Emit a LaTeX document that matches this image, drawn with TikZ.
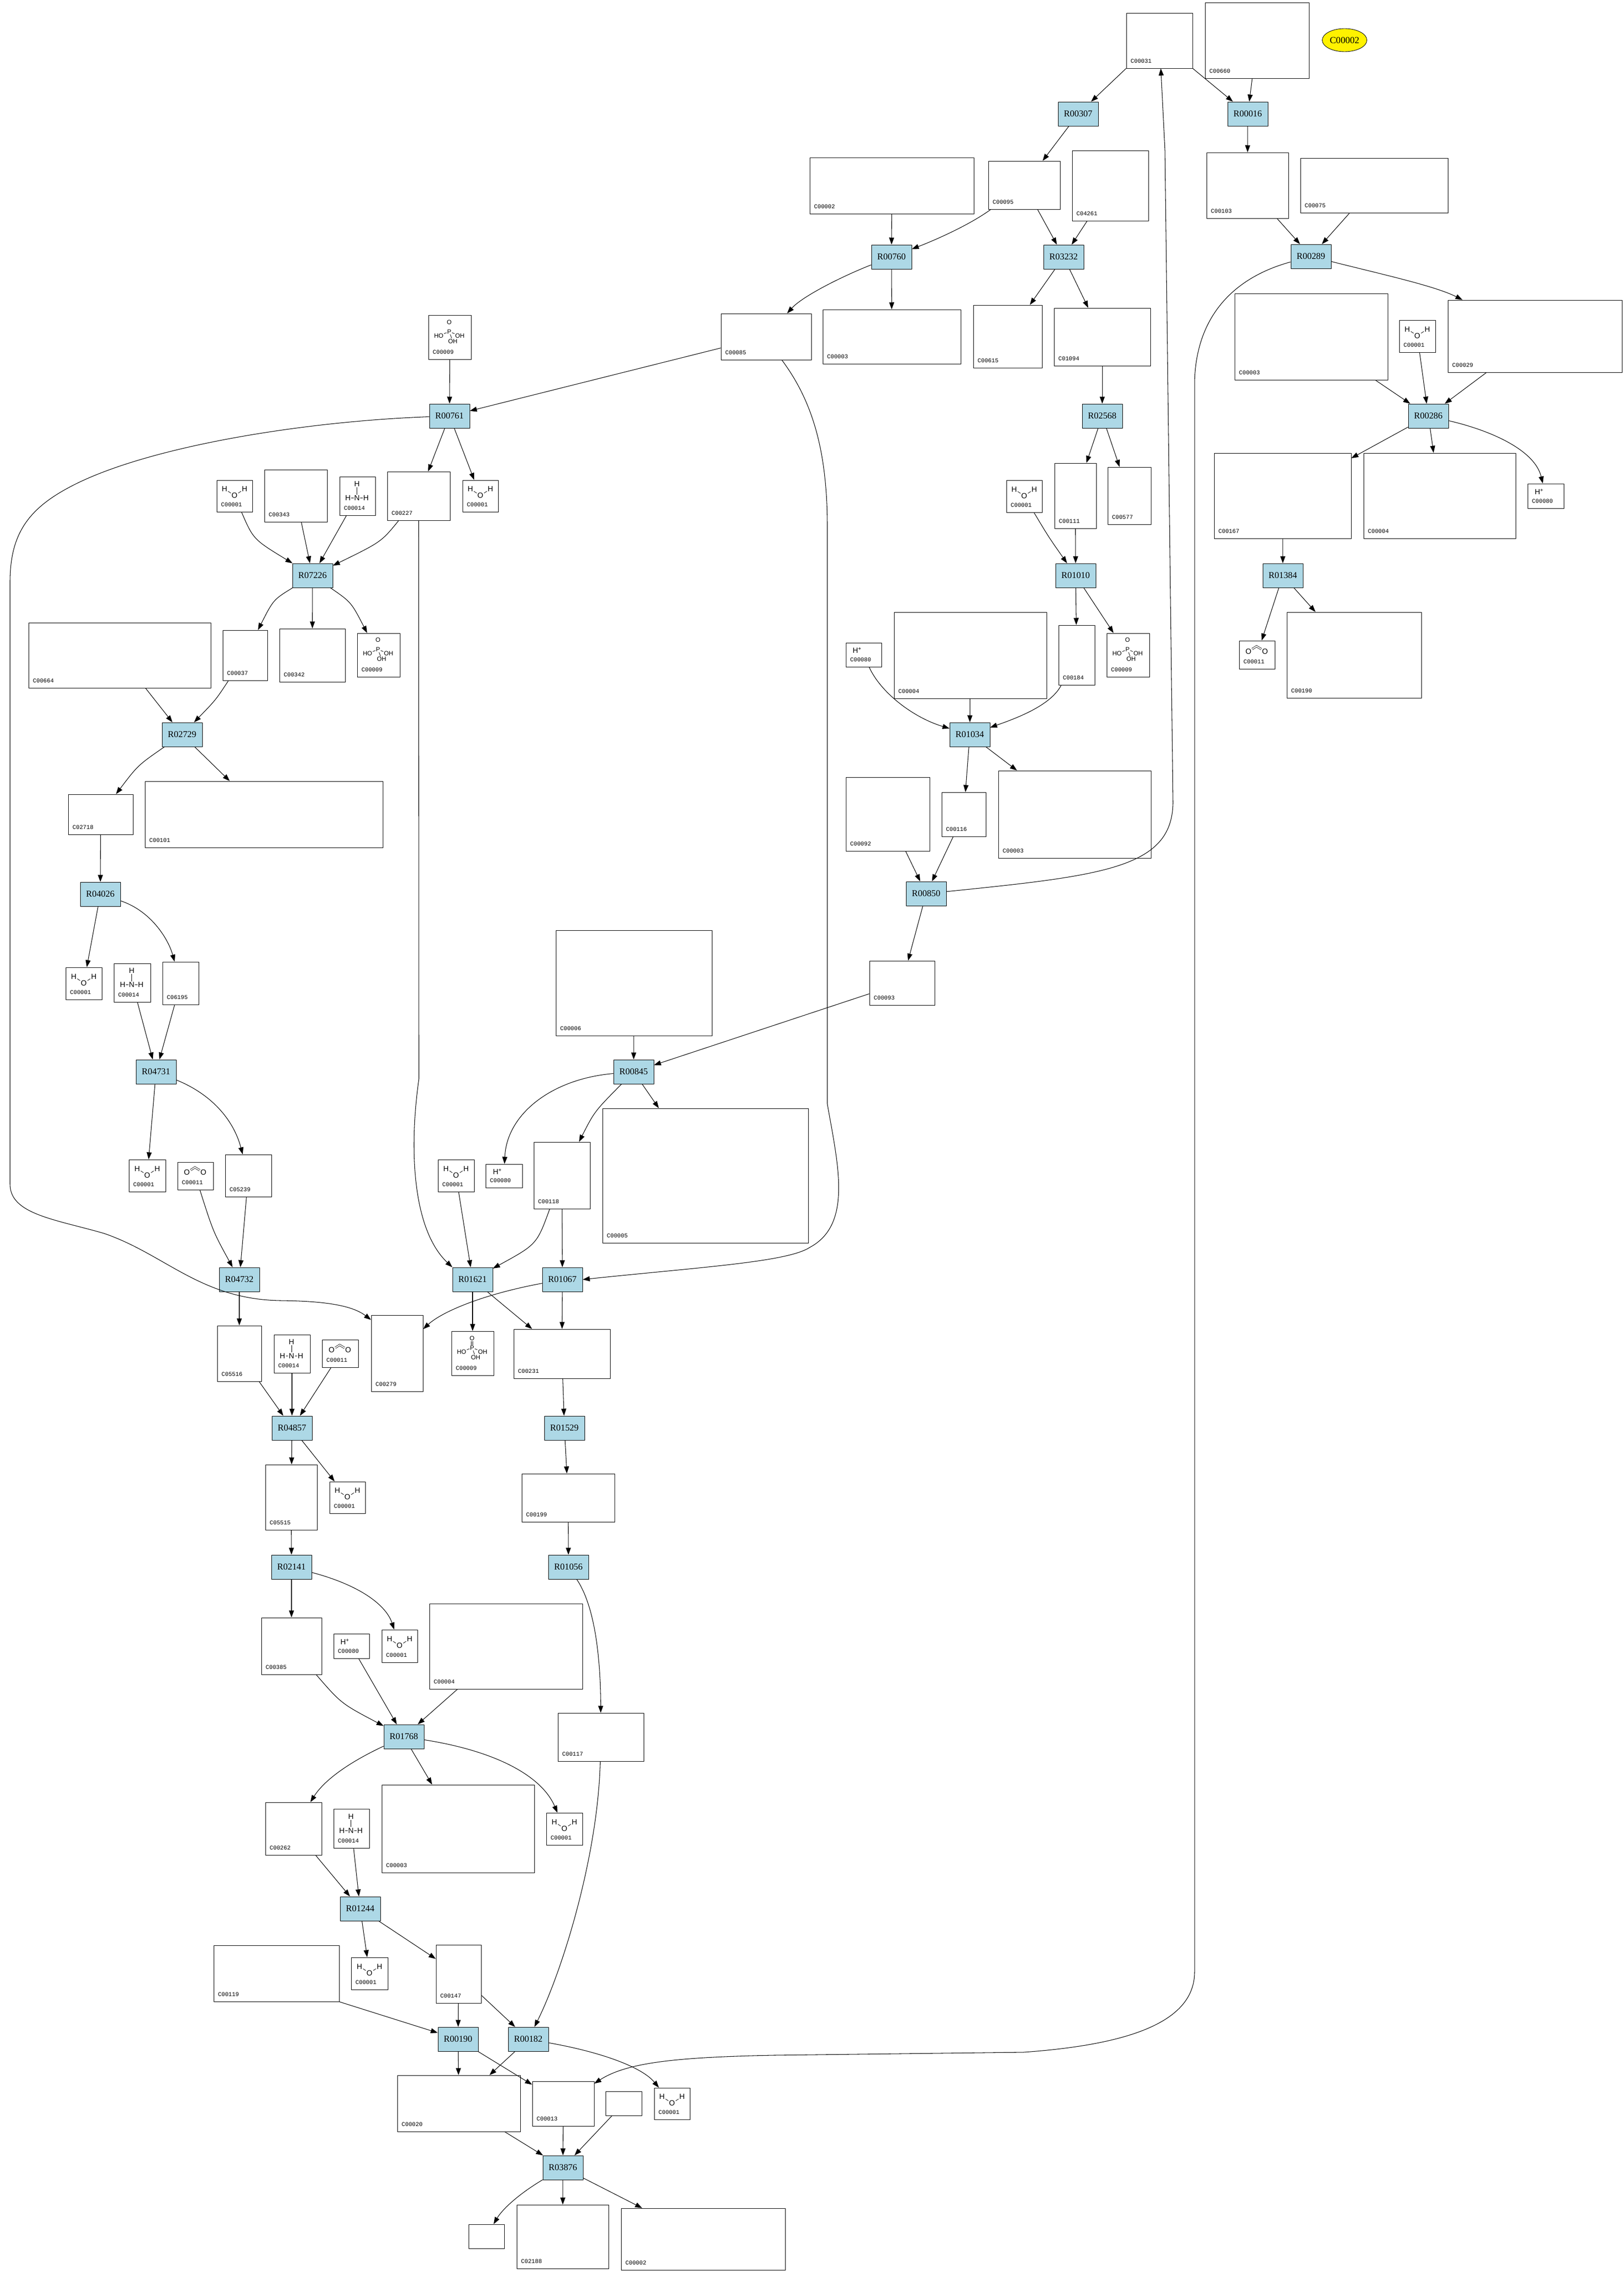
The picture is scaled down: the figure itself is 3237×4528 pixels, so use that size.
\documentclass[tikz,border=0pt]{standalone}
\usepackage{fontspec}
\setmainfont{Liberation Serif}
\newfontfamily\idfont{Liberation Mono}
\newfontfamily\chemfont{Liberation Sans}
\usetikzlibrary{arrows.meta,shapes.geometric,fit}
\definecolor{rxnblue}{HTML}{ADD8E6}
\begin{document}
\begin{tikzpicture}[x=0.02cm,y=-0.02cm,line width=0.6pt,
rxn/.style={draw,fill=rxnblue,line width=0.5pt,minimum width=1.6cm,minimum height=0.96cm,inner sep=0pt,font=\fontsize{10.2}{12}\selectfont},
cpd/.style={draw,inner sep=0pt,line width=0.5pt},
idl/.style={anchor=south west,inner xsep=0.17cm,inner ysep=0.2cm,font=\idfont\fontsize{6.6}{8}\selectfont},
atom/.style={inner sep=0.6pt,font=\chemfont\fontsize{8.5}{9}\selectfont},
satom/.style={inner sep=0.4pt,font=\chemfont\fontsize{7}{8}\selectfont},
bond/.style={line width=0.45pt},
arr/.style={-{Triangle[length=8pt,width=5.7pt]}},
water/.pic={\node[atom] (-ha) at (-20,-14) {H}; \node[atom] (-o) at (0,-1) {O}; \node[atom] (-hb) at (20,-14) {H};
  \draw[bond] (-ha) -- (-o) -- (-hb);},
ammonia/.pic={\node[atom] (-ht) at (-1,-24) {H}; \node[atom] (-n) at (-1,4) {N}; \node[atom] (-hl) at (-19,4) {H}; \node[atom] (-hr) at (17,4) {H};
  \draw[bond] (-ht) -- (-n); \draw[bond] (-hl) -- (-n) -- (-hr);},
carbdiox/.pic={\node[atom] (-oa) at (-17,-7) {O}; \node[atom] (-ob) at (16,-7) {O}; \coordinate (-c) at (-1,-17);
  \draw[bond,double,double distance=1.3pt] (-oa) -- (-c) -- (-ob);},
proton/.pic={\node[atom] (-h) at (-13,-9) {H\textsuperscript{+}};},
phosph/.pic={\node[satom] (-o) at (-1,-30) {O}; \node[satom] (-p) at (-1,-11) {P}; \node[satom] (-hl) at (-22,-3) {HO};
  \node[satom] (-hr) at (20,-3) {OH}; \node[satom] (-hd) at (6,8) {OH};
  \draw[bond,double,double distance=1.2pt] (-o) -- (-p); \draw[bond] (-hl) -- (-p) -- (-hr); \draw[bond] (-p) -- (-hd);}]
\fill[white] (0,0) rectangle (3237,4528);
\useasboundingbox (0,0) rectangle (3237,4528);

\node[rxn] (r00307) at (2149,227) {R00307};
\node[rxn] (r00016) at (2487,227) {R00016};
\node[rxn] (r00760) at (1777,512) {R00760};
\node[rxn] (r03232) at (2120,512) {R03232};
\node[rxn] (r00289) at (2613,511) {R00289};
\node[rxn] (r00761) at (896,829) {R00761};
\node[rxn] (r02568) at (2197,829) {R02568};
\node[rxn] (r00286) at (2847,829) {R00286};
\node[rxn] (r07226) at (623,1147) {R07226};
\node[rxn] (r01010) at (2144,1147) {R01010};
\node[rxn] (r01384) at (2557,1147) {R01384};
\node[rxn] (r02729) at (363,1464) {R02729};
\node[rxn] (r01034) at (1933,1464) {R01034};
\node[rxn] (r04026) at (200,1782) {R04026};
\node[rxn] (r00850) at (1846,1781) {R00850};
\node[rxn] (r04731) at (311,2136) {R04731};
\node[rxn] (r00845) at (1263,2136) {R00845};
\node[rxn] (r04732) at (477,2550) {R04732};
\node[rxn] (r01621) at (942,2550) {R01621};
\node[rxn] (r01067) at (1121,2550) {R01067};
\node[rxn] (r04857) at (582,2846) {R04857};
\node[rxn] (r01529) at (1125,2846) {R01529};
\node[rxn] (r02141) at (581,3123) {R02141};
\node[rxn] (r01056) at (1133,3123) {R01056};
\node[rxn] (r01768) at (805,3461) {R01768};
\node[rxn] (r01244) at (718,3804) {R01244};
\node[rxn] (r00190) at (913,4064) {R00190};
\node[rxn] (r00182) at (1053,4064) {R00182};
\node[rxn] (r03876) at (1122,4320) {R03876};

\node[draw,ellipse,fill=yellow,line width=0.5pt,minimum width=1.78cm,minimum height=0.92cm,inner sep=0pt,font=\fontsize{10.6}{12}\selectfont] (c00002y) at (2680,80) {C00002};

\node[cpd,fit={(2245,26) (2377,136)},label={[idl]south west:C00031}] (c00031) {};
\node[cpd,fit={(2402,5) (2609,156)},label={[idl]south west:C00660}] (c00660) {};
\node[cpd,fit={(1614,314) (1941,426)},label={[idl]south west:C00002}] (c00002a) {};
\node[cpd,fit={(1970,321) (2113,417)},label={[idl]south west:C00095}] (c00095) {};
\node[cpd,fit={(2137,300) (2289,440)},label={[idl]south west:C04261}] (c04261) {};
\node[cpd,fit={(2405,304) (2568,435)},label={[idl]south west:C00103}] (c00103) {};
\node[cpd,fit={(2592,315) (2886,424)},label={[idl]south west:C00075}] (c00075) {};
\node[cpd,fit={(1437,625) (1617,717)},label={[idl]south west:C00085}] (c00085) {};
\node[cpd,fit={(1640,617) (1915,725)},label={[idl]south west:C00003}] (c00008) {};
\node[cpd,fit={(1940,608) (2077,733)},label={[idl]south west:C00615}] (c00615) {};
\node[cpd,fit={(2101,614) (2293,729)},label={[idl]south west:C01094}] (c01094) {};
\node[cpd,fit={(854,628) (939,716)},label={[idl]south west:C00009}] (c00009a) {};
\node[cpd,fit={(2461,585) (2766,757)},label={[idl]south west:C00003}] (c00003a) {};
\node[cpd,fit={(2789,638) (2861,702)},label={[idl]south west:C00001}] (c00001a) {};
\node[cpd,fit={(2886,598) (3233,742)},label={[idl]south west:C00029}] (c00029) {};
\node[cpd,fit={(432,957) (503,1020)},label={[idl]south west:C00001}] (c00001b) {};
\node[cpd,fit={(527,936) (652,1040)},label={[idl]south west:C00343}] (c00343) {};
\node[cpd,fit={(677,950) (748,1027)},label={[idl]south west:C00014}] (c00014a) {};
\node[cpd,fit={(772,940) (897,1037)},label={[idl]south west:C00227}] (c00227) {};
\node[cpd,fit={(922,957) (993,1020)},label={[idl]south west:C00001}] (c00001c) {};
\node[cpd,fit={(2006,957) (2077,1021)},label={[idl]south west:C00001}] (c00001d) {};
\node[cpd,fit={(2102,923) (2185,1053)},label={[idl]south west:C00111}] (c00111) {};
\node[cpd,fit={(2208,931) (2294,1045)},label={[idl]south west:C00577}] (c00577) {};
\node[cpd,fit={(2420,903) (2693,1073)},label={[idl]south west:C00167}] (c00167) {};
\node[cpd,fit={(2718,903) (3021,1073)},label={[idl]south west:C00004}] (c00004a) {};
\node[cpd,fit={(3045,964) (3117,1013)},label={[idl]south west:C00080}] (c00080a) {};
\node[cpd,fit={(57,1241) (420,1371)},label={[idl]south west:C00664}] (c00664) {};
\node[cpd,fit={(444,1256) (533,1356)},label={[idl]south west:C00037}] (c00037) {};
\node[cpd,fit={(557,1253) (688,1359)},label={[idl]south west:C00342}] (c00342) {};
\node[cpd,fit={(712,1262) (797,1349)},label={[idl]south west:C00009}] (c00009b) {};
\node[cpd,fit={(1686,1281) (1757,1329)},label={[idl]south west:C00080}] (c00080b) {};
\node[cpd,fit={(1782,1220) (2086,1392)},label={[idl]south west:C00004}] (c00004b) {};
\node[cpd,fit={(2110,1246) (2182,1365)},label={[idl]south west:C00184}] (c00184) {};
\node[cpd,fit={(2206,1262) (2291,1349)},label={[idl]south west:C00009}] (c00009c) {};
\node[cpd,fit={(2470,1277) (2541,1333)},label={[idl]south west:C00011}] (c00011a) {};
\node[cpd,fit={(2565,1220) (2833,1391)},label={[idl]south west:C00190}] (c00190) {};
\node[cpd,fit={(136,1583) (265,1663)},label={[idl]south west:C02718}] (c02718) {};
\node[cpd,fit={(289,1557) (763,1689)},label={[idl]south west:C00101}] (c00101) {};
\node[cpd,fit={(1686,1549) (1853,1696)},label={[idl]south west:C00092}] (c00092) {};
\node[cpd,fit={(1877,1579) (1965,1667)},label={[idl]south west:C00116}] (c00116) {};
\node[cpd,fit={(1990,1536) (2294,1710)},label={[idl]south west:C00003}] (c00003b) {};
\node[cpd,fit={(1108,1854) (1419,2064)},label={[idl]south west:C00006}] (c00006) {};
\node[cpd,fit={(1733,1915) (1863,2003)},label={[idl]south west:C00093}] (c00093) {};
\node[cpd,fit={(131,1928) (203,1992)},label={[idl]south west:C00001}] (c00001e) {};
\node[cpd,fit={(227,1920) (300,1997)},label={[idl]south west:C00014}] (c00014b) {};
\node[cpd,fit={(324,1917) (396,2002)},label={[idl]south west:C06195}] (c06195) {};
\node[cpd,fit={(257,2311) (330,2375)},label={[idl]south west:C00001}] (c00001f) {};
\node[cpd,fit={(354,2316) (425,2371)},label={[idl]south west:C00011}] (c00011b) {};
\node[cpd,fit={(449,2301) (541,2385)},label={[idl]south west:C05239}] (c05239) {};
\node[cpd,fit={(873,2311) (945,2375)},label={[idl]south west:C00001}] (c00001g) {};
\node[cpd,fit={(968,2320) (1041,2367)},label={[idl]south west:C00080}] (c00080c) {};
\node[cpd,fit={(1064,2276) (1176,2409)},label={[idl]south west:C00118}] (c00118) {};
\node[cpd,fit={(1201,2209) (1611,2477)},label={[idl]south west:C00005}] (c00005) {};
\node[cpd,fit={(433,2642) (521,2753)},label={[idl]south west:C05516}] (c05516) {};
\node[cpd,fit={(546,2660) (618,2736)},label={[idl]south west:C00014}] (c00014c) {};
\node[cpd,fit={(642,2670) (714,2725)},label={[idl]south west:C00011}] (c00011c) {};
\node[cpd,fit={(740,2621) (843,2773)},label={[idl]south west:C00279}] (c00279) {};
\node[cpd,fit={(900,2653) (984,2741)},label={[idl]south west:C00009}] (c00009d) {};
\node[cpd,fit={(1024,2649) (1216,2747)},label={[idl]south west:C00231}] (c00231) {};
\node[cpd,fit={(529,2919) (632,3049)},label={[idl]south west:C05515}] (c05515) {};
\node[cpd,fit={(657,2953) (728,3016)},label={[idl]south west:C00001}] (c00001h) {};
\node[cpd,fit={(1040,2937) (1225,3033)},label={[idl]south west:C00199}] (c00199) {};
\node[cpd,fit={(521,3224) (641,3337)},label={[idl]south west:C00385}] (c00385) {};
\node[cpd,fit={(665,3256) (736,3305)},label={[idl]south west:C00080}] (c00080d) {};
\node[cpd,fit={(761,3248) (832,3313)},label={[idl]south west:C00001}] (c00001i) {};
\node[cpd,fit={(856,3196) (1161,3366)},label={[idl]south west:C00004}] (c00004c) {};
\node[cpd,fit={(1112,3414) (1283,3510)},label={[idl]south west:C00117}] (c00117) {};
\node[cpd,fit={(529,3592) (641,3697)},label={[idl]south west:C00262}] (c00262) {};
\node[cpd,fit={(665,3605) (736,3683)},label={[idl]south west:C00014}] (c00014d) {};
\node[cpd,fit={(761,3557) (1065,3732)},label={[idl]south west:C00003}] (c00003c) {};
\node[cpd,fit={(1089,3613) (1161,3677)},label={[idl]south west:C00001}] (c00001j) {};
\node[cpd,fit={(426,3877) (676,3989)},label={[idl]south west:C00119}] (c00119) {};
\node[cpd,fit={(700,3901) (773,3965)},label={[idl]south west:C00001}] (c00001k) {};
\node[cpd,fit={(869,3876) (959,3992)},label={[idl]south west:C00147}] (c00147) {};
\node[cpd,fit={(792,4136) (1037,4248)},label={[idl]south west:C00020}] (c00020) {};
\node[cpd,fit={(1061,4148) (1184,4237)},label={[idl]south west:C00013}] (c00013) {};
\node[cpd,fit={(1207,4168) (1279,4216)}] (emptya) {};
\node[cpd,fit={(1304,4161) (1375,4224)},label={[idl]south west:C00001}] (c00001l) {};
\node[cpd,fit={(934,4433) (1005,4481)}] (emptyb) {};
\node[cpd,fit={(1030,4394) (1213,4521)},label={[idl]south west:C02188}] (c02188) {};
\node[cpd,fit={(1238,4401) (1565,4524)},label={[idl]south west:C00002}] (c00002b) {};

\pic (wa) at (c00001a) {water};
\pic (wb) at (c00001b) {water};
\pic (wc) at (c00001c) {water};
\pic (wd) at (c00001d) {water};
\pic (we) at (c00001e) {water};
\pic (wf) at (c00001f) {water};
\pic (wg) at (c00001g) {water};
\pic (wh) at (c00001h) {water};
\pic (wi) at (c00001i) {water};
\pic (wj) at (c00001j) {water};
\pic (wk) at (c00001k) {water};
\pic (wl) at (c00001l) {water};
\pic (na) at (c00014a) {ammonia};
\pic (nb) at (c00014b) {ammonia};
\pic (nc) at (c00014c) {ammonia};
\pic (nd) at (c00014d) {ammonia};
\pic (ka) at (c00011a) {carbdiox};
\pic (kb) at (c00011b) {carbdiox};
\pic (kc) at (c00011c) {carbdiox};
\pic (pa) at (c00080a) {proton};
\pic (pb) at (c00080b) {proton};
\pic (pc) at (c00080c) {proton};
\pic (pd) at (c00080d) {proton};
\pic (fa) at (c00009a) {phosph};
\pic (fb) at (c00009b) {phosph};
\pic (fc) at (c00009c) {phosph};
\pic (fd) at (c00009d) {phosph};

\draw[arr] (c00031.south west) -- (r00307);
\draw[arr] (c00031.south east) -- (r00016);
\draw[arr] (c00660) -- (r00016);
\draw[arr] (r00307) -- (c00095);
\draw[arr] (r00016) -- (c00103);
\draw[arr] (c00002a) -- (r00760);
\draw[arr] (c00095) .. controls (1930,450) and (1860,480) .. (r00760);
\draw[arr] (c00095) -- (r03232);
\draw[arr] (c04261) -- (r03232);
\draw[arr] (r00760) .. controls (1680,550) and (1600,590) .. (c00085);
\draw[arr] (r00760) -- (c00008);
\draw[arr] (r03232) -- (c00615);
\draw[arr] (r03232) -- (c01094);
\draw[arr] (c00103) -- (r00289);
\draw[arr] (c00075) -- (r00289);
\draw[arr] (r00289) .. controls (2760,548) and (2860,570) .. (c00029);
\draw[arr] (r00289) .. controls (2470,550) and (2385,620) .. (2381,760) -- (2381,3930) .. controls (2381,4030) and (2250,4075) .. (2040,4090) -- (1540,4096) .. controls (1350,4100) and (1250,4110) .. (c00013);
\draw[arr] (r00850) .. controls (2200,1745) and (2336,1730) .. (2338,1600) -- (2322,300) -- (c00031);
\draw[arr] (c00009a) -- (r00761);
\draw[arr] (c00085) -- (r00761);
\draw[arr] (r00761) -- (c00227);
\draw[arr] (r00761) -- (c00001c);
\draw[arr] (r00761) .. controls (600,840) and (300,890) .. (150,965) .. controls (60,1010) and (20,1060) .. (20,1160) -- (20,2360) .. controls (20,2420) and (110,2430) .. (207,2458) .. controls (330,2500) and (400,2590) .. (560,2592) .. controls (640,2593) and (700,2600) .. (c00279.128);
\draw[arr] (c00227.south) -- (835,2150) .. controls (815,2290) and (822,2450) .. (r01621.north west);
\draw[arr] (c00085.-56) .. controls (1620,800) and (1649,900) .. (1649,1050) -- (1649,2200) .. controls (1670,2320) and (1700,2440) .. (1614,2486) .. controls (1570,2515) and (1400,2525) .. (r01067.east);
\draw[arr] (c00001b) .. controls (505,1075) .. (r07226);
\draw[arr] (c00343) -- (r07226);
\draw[arr] (c00014a) -- (r07226);
\draw[arr] (c00227) .. controls (760,1080) .. (r07226);
\draw[arr] (r07226) .. controls (545,1195) .. (c00037);
\draw[arr] (r07226) -- (c00342);
\draw[arr] (r07226) .. controls (700,1200) .. (c00009b);
\draw[arr] (c00664) -- (r02729);
\draw[arr] (c00037) .. controls (430,1395) .. (r02729);
\draw[arr] (r02729) .. controls (275,1525) .. (c02718);
\draw[arr] (r02729) -- (c00101);
\draw[arr] (c02718) -- (r04026);
\draw[arr] (r04026) -- (c00001e);
\draw[arr] (r04026) .. controls (300,1815) and (335,1870) .. (c06195);
\draw[arr] (c00014b) -- (r04731);
\draw[arr] (c06195) -- (r04731);
\draw[arr] (r04731) -- (c00001f);
\draw[arr] (r04731) .. controls (420,2180) and (465,2230) .. (c05239);
\draw[arr] (c00011b) .. controls (425,2455) .. (r04732);
\draw[arr] (c05239) -- (r04732);
\draw[arr] (r04732) -- (c05516);
\draw[arr] (c05516) -- (r04857);
\draw[arr] (c00014c) -- (r04857);
\draw[arr] (c00011c) -- (r04857);
\draw[arr] (r01067) .. controls (960,2580) and (880,2615) .. (c00279);
\draw[arr] (c00006) -- (r00845);
\draw[arr] (c00093) -- (r00845);
\draw[arr] (r00845) .. controls (1100,2150) and (1010,2220) .. (c00080c);
\draw[arr] (r00845) .. controls (1185,2215) .. (c00118);
\draw[arr] (r00845) -- (c00005);
\draw[arr] (c00001g) -- (r01621);
\draw[arr] (c00118) .. controls (1070,2480) .. (r01621);
\draw[arr] (c00118) -- (r01067);
\draw[arr] (r01621) -- (c00009d);
\draw[arr] (r01621) -- (c00231);
\draw[arr] (r01067) -- (c00231);
\draw[arr] (r04857) -- (c05515);
\draw[arr] (r04857) -- (c00001h);
\draw[arr] (c00231) -- (r01529);
\draw[arr] (r01529) -- (c00199);
\draw[arr] (c05515) -- (r02141);
\draw[arr] (c00199) -- (r01056);
\draw[arr] (r02141) -- (c00385);
\draw[arr] (r02141) .. controls (720,3160) and (770,3200) .. (c00001i);
\draw[arr] (r01056) .. controls (1185,3200) and (1197,3300) .. (c00117);
\draw[arr] (c00385) .. controls (680,3395) .. (r01768);
\draw[arr] (c00080d) -- (r01768);
\draw[arr] (c00004c) -- (r01768);
\draw[arr] (r01768) .. controls (690,3515) and (645,3550) .. (c00262);
\draw[arr] (r01768) -- (c00003c);
\draw[arr] (r01768) .. controls (990,3490) and (1080,3540) .. (c00001j);
\draw[arr] (c00262) -- (r01244);
\draw[arr] (c00014d) -- (r01244);
\draw[arr] (r01244) -- (c00001k);
\draw[arr] (r01244) -- (c00147);
\draw[arr] (c00119.south east) -- (r00190);
\draw[arr] (c00147) -- (r00190);
\draw[arr] (c00147) -- (r00182);
\draw[arr] (c00117) .. controls (1192,3700) and (1120,3930) .. (r00182);
\draw[arr] (r00190) -- (c00020);
\draw[arr] (r00190) -- (c00013);
\draw[arr] (r00182) -- (c00020);
\draw[arr] (r00182) .. controls (1200,4090) and (1280,4120) .. (c00001l);
\draw[arr] (c00020) -- (r03876);
\draw[arr] (c00013) -- (r03876);
\draw[arr] (emptya) -- (r03876);
\draw[arr] (r03876) .. controls (1030,4375) and (1000,4405) .. (emptyb);
\draw[arr] (r03876) -- (c02188);
\draw[arr] (r03876) -- (c00002b);
\draw[arr] (c01094) -- (r02568);
\draw[arr] (r02568) -- (c00111);
\draw[arr] (r02568) -- (c00577);
\draw[arr] (c00001d) .. controls (2090,1070) .. (r01010);
\draw[arr] (c00111) -- (r01010);
\draw[arr] (r01010) -- (c00184);
\draw[arr] (r01010) -- (c00009c);
\draw[arr] (c00080b) .. controls (1755,1380) and (1820,1430) .. (r01034);
\draw[arr] (c00004b) -- (r01034);
\draw[arr] (c00184) .. controls (2095,1405) and (2030,1430) .. (r01034);
\draw[arr] (r01034) -- (c00116);
\draw[arr] (r01034) -- (c00003b);
\draw[arr] (c00092) -- (r00850);
\draw[arr] (c00116) -- (r00850);
\draw[arr] (r00850) -- (c00093);
\draw[arr] (c00003a) -- (r00286);
\draw[arr] (c00001a) -- (r00286);
\draw[arr] (c00029) -- (r00286);
\draw[arr] (r00286) -- (c00167);
\draw[arr] (r00286) -- (c00004a);
\draw[arr] (r00286) .. controls (2980,860) and (3060,900) .. (c00080a);
\draw[arr] (c00167) -- (r01384);
\draw[arr] (r01384) -- (c00011a);
\draw[arr] (r01384) -- (c00190);
\end{tikzpicture}
\end{document}
